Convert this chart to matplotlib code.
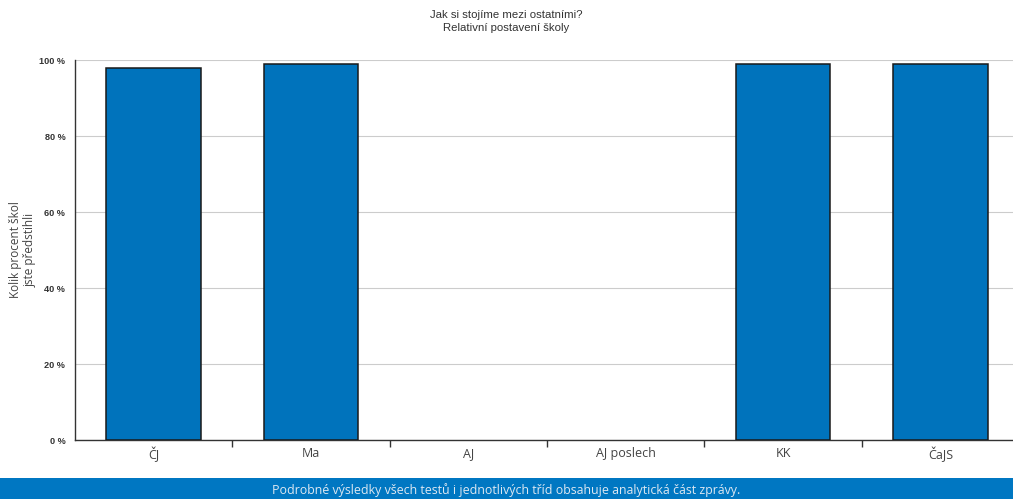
import numpy as np
import matplotlib
matplotlib.use("Agg")
import matplotlib.pyplot as plt
from matplotlib.ticker import FixedLocator

categories = ["ČJ", "Ma", "AJ", "AJ poslech", "KK", "ČaJS"]
values = [98, 99, np.nan, np.nan, 99, 99]
yticks = [0, 20, 40, 60, 80, 100]
ytick_labels = ["0 %", "20 %", "40 %", "60 %", "80 %", "100 %"]

W, H = 1013, 499
fig = plt.figure(figsize=(W / 100, H / 100), dpi=100)
fig.patch.set_facecolor("white")

left = 75 / W
right = 1019 / W
bottom = 1 - 440 / H
top = 1 - 60 / H
ax = fig.add_axes([left, bottom, right - left, top - bottom])

x = np.arange(len(categories))
ax.bar(x, values, width=0.6, color="#0073BC", edgecolor="#1a1a1a", linewidth=1.1, zorder=3)

ax.set_xlim(-0.5, len(categories) - 0.5)
ax.set_ylim(0, 100)
ax.set_yticks(yticks)
ax.set_yticklabels(ytick_labels, fontsize=6.6, fontweight="bold", color="#333333",
                   family="Liberation Sans")
ax.yaxis.grid(True, color="#cccccc", linewidth=0.8, zorder=0)
ax.tick_params(axis="y", length=0, pad=7)

ax.set_xticks(x)
ax.set_xticklabels(categories, fontsize=9, color="#444444", family="Open Sans")
ax.tick_params(axis="x", which="major", length=0, pad=5)
ax.xaxis.set_minor_locator(FixedLocator(np.arange(len(categories)) + 0.5))
ax.tick_params(axis="x", which="minor", length=5, width=1, color="#333333")

for s in ["top", "right"]:
    ax.spines[s].set_visible(False)
ax.spines["left"].set_color("#333333")
ax.spines["bottom"].set_color("#333333")
ax.spines["left"].set_linewidth(1)
ax.spines["bottom"].set_linewidth(1)

fig.text(left - 52 / W, 1 - 250 / H, "Kolik procent škol\njste předstihli", rotation=90,
         ha="center", va="center", fontsize=8.5, color="#444444", family="Open Sans",
         linespacing=1.1)

fig.text(506 / W, 1 - 15 / H, "Jak si stojíme mezi ostatními?", ha="center", va="center",
         fontsize=8.2, color="#333333", family="Liberation Sans")
fig.text(506 / W, 1 - 28 / H, "Relativní postavení školy", ha="center", va="center",
         fontsize=8.2, color="#333333", family="Liberation Sans")

band = fig.add_axes([0, 0, 1, 21 / H])
band.set_facecolor("#0077C2")
band.set_xticks([])
band.set_yticks([])
for s in band.spines.values():
    s.set_visible(False)
band.text(0.5, 0.45, "Podrobné výsledky všech testů i jednotlivých tříd obsahuje analytická část zprávy.",
          ha="center", va="center", fontsize=8.9, color="#dde8f2", family="Open Sans",
          transform=band.transAxes)

fig.savefig("out.png", dpi=100)
